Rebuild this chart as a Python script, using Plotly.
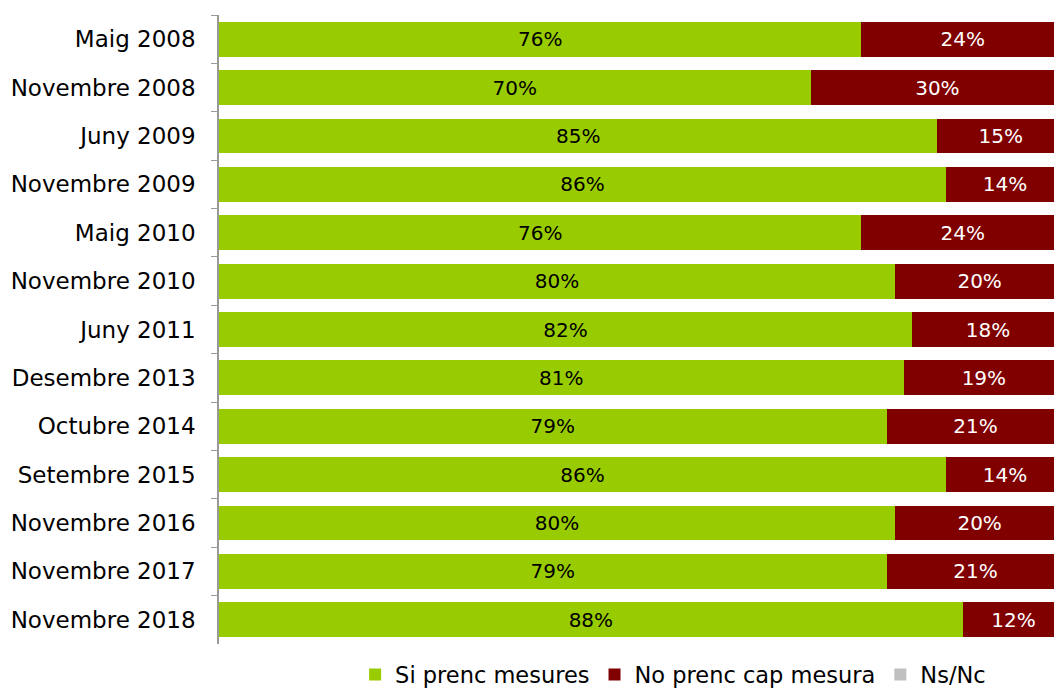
import plotly.graph_objects as go

categories = ["Maig 2008", "Novembre 2008", "Juny 2009", "Novembre 2009", "Maig 2010",
              "Novembre 2010", "Juny 2011", "Desembre 2013", "Octubre 2014", "Setembre 2015",
              "Novembre 2016", "Novembre 2017", "Novembre 2018"]
si = [76, 70, 85, 86, 76, 80, 82, 81, 79, 86, 80, 79, 88]
no = [24, 30, 15, 14, 24, 20, 18, 19, 21, 14, 20, 21, 12]
nsnc = [0] * len(categories)

FONT = "Century Gothic, DejaVu Sans, sans-serif"

fig = go.Figure()
fig.add_trace(go.Bar(y=categories, x=si, orientation="h", name="Si prenc mesures",
                     marker=dict(color="#99CC00", line=dict(width=0)),
                     text=[f"{v}%" for v in si], textposition="inside", insidetextanchor="middle",
                     textfont=dict(color="#000000", size=20, family=FONT)))
fig.add_trace(go.Bar(y=categories, x=no, orientation="h", name="No prenc cap mesura",
                     marker=dict(color="#800000", line=dict(width=0)),
                     text=[f"{v}%" for v in no], textposition="inside", insidetextanchor="middle",
                     textfont=dict(color="#FFFFFF", size=20, family=FONT)))
fig.add_trace(go.Bar(y=categories, x=nsnc, orientation="h", name="Ns/Nc",
                     marker=dict(color="#C0C0C0", line=dict(width=0))))

fig.update_layout(
    width=1054, height=688,
    barmode="stack", bargap=0.28,
    margin=dict(l=219, r=0, t=15, b=44, autoexpand=False),
    paper_bgcolor="white", plot_bgcolor="white",
    font=dict(family=FONT, size=22, color="#000000"),
    uniformtext=dict(mode=False),
    legend=dict(orientation="h", x=0.163, y=0.019, xanchor="left", yanchor="middle",
                yref="container", font=dict(size=22.5, family=FONT), traceorder="normal",
                itemwidth=30, tracegroupgap=0),
    showlegend=True,
)
fig.update_xaxes(range=[0, 98.8], visible=False, showgrid=False, zeroline=False)
fig.update_yaxes(autorange="reversed", type="category", showline=True, linecolor="#999999",
                 linewidth=1.5, ticks="outside", tickson="boundaries", ticklen=6,
                 tickcolor="#999999", showgrid=False, ticklabelstandoff=17,
                 tickfont=dict(size=23, family=FONT, color="#000000"))

fig.write_html("out.html", config={"displayModeBar": False},
               post_script="document.body.style.margin='0';document.body.style.overflow='hidden';")
